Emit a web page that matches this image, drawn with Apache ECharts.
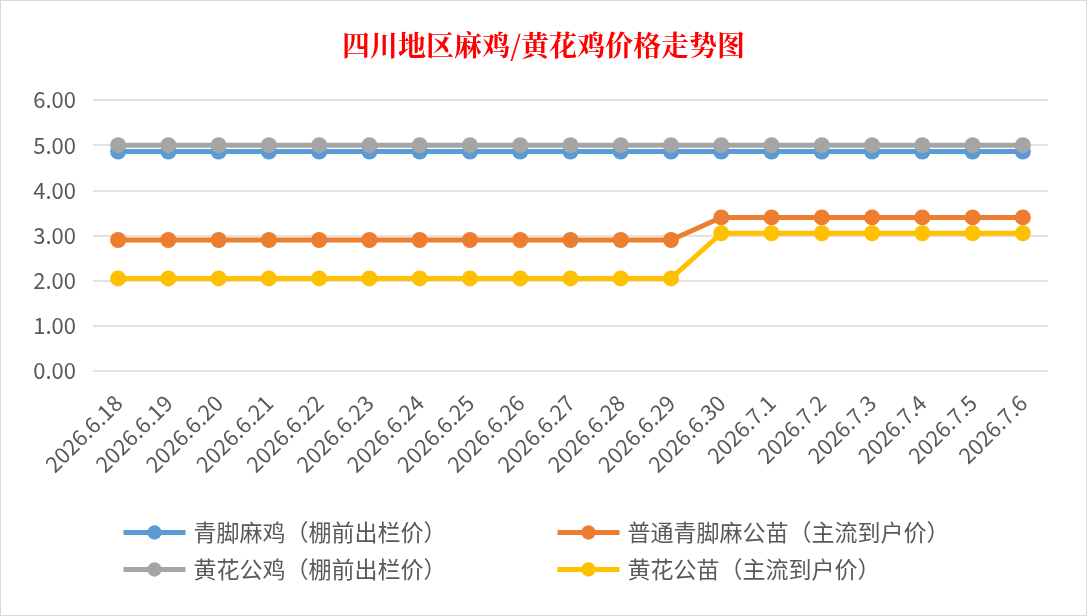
<!DOCTYPE html>
<html><head><meta charset="utf-8">
<script src="https://cdn.jsdelivr.net/npm/echarts@6/dist/echarts.min.js"></script>
<style>html,body{margin:0;padding:0;background:#fff}#c{width:1085px;height:614px;border:1px solid #d9d9d9}</style>
</head><body><div id="c"></div>
<script>
const categories = ['2026.6.18','2026.6.19','2026.6.20','2026.6.21','2026.6.22','2026.6.23','2026.6.24','2026.6.25','2026.6.26','2026.6.27','2026.6.28','2026.6.29','2026.6.30','2026.7.1','2026.7.2','2026.7.3','2026.7.4','2026.7.5','2026.7.6'];
const qingjiaoMaji = [4.86,4.86,4.86,4.86,4.86,4.86,4.86,4.86,4.86,4.86,4.86,4.86,4.86,4.86,4.86,4.86,4.86,4.86,4.86];
const putongMiao = [2.90,2.90,2.90,2.90,2.90,2.90,2.90,2.90,2.90,2.90,2.90,2.90,3.40,3.40,3.40,3.40,3.40,3.40,3.40];
const huanghuaGongji = [5.00,5.00,5.00,5.00,5.00,5.00,5.00,5.00,5.00,5.00,5.00,5.00,5.00,5.00,5.00,5.00,5.00,5.00,5.00];
const huanghuaMiao = [2.05,2.05,2.05,2.05,2.05,2.05,2.05,2.05,2.05,2.05,2.05,2.05,3.05,3.05,3.05,3.05,3.05,3.05,3.05];
const names = ['青脚麻鸡（棚前出栏价）','普通青脚麻公苗（主流到户价）','黄花公鸡（棚前出栏价）','黄花公苗（主流到户价）'];
const colors = ['#5b9bd5','#ed7d31','#a5a5a5','#ffc000'];
const dataSets = [qingjiaoMaji, putongMiao, huanghuaGongji, huanghuaMiao];

const chart = echarts.init(document.getElementById('c'));
const font = '"Noto Sans CJK SC","Noto Sans",sans-serif';
const legendText = {fontSize:23,color:'#595959',fontFamily:font,padding:[0,0,0,3]};
chart.setOption({
  animation:false,
  title:{text:'四川地区麻鸡/黄花鸡价格走势图',left:'center',top:25,
    textStyle:{color:'#ff0000',fontSize:28,fontWeight:'bold',fontFamily:'"Noto Serif CJK SC","Noto Sans CJK SC",serif'}},
  grid:{left:92,right:38,top:99,bottom:244,containLabel:false},
  legend:[
    {orient:'vertical',left:115,top:515,itemWidth:62,itemHeight:18,itemGap:14,textStyle:legendText,
     lineStyle:{width:5},data:[names[0],names[2]]},
    {orient:'vertical',left:549,top:515,itemWidth:62,itemHeight:18,itemGap:14,textStyle:legendText,
     lineStyle:{width:5},data:[names[1],names[3]]}
  ],
  xAxis:{type:'category',data:categories,boundaryGap:true,
    axisLine:{show:false},axisTick:{show:false},
    axisLabel:{rotate:45,fontSize:22,color:'#595959',fontFamily:font,margin:28,interval:0}},
  yAxis:{type:'value',min:0,max:6,interval:1,
    axisLine:{show:false},axisTick:{show:false},
    splitLine:{lineStyle:{color:'#d9d9d9',width:1.5}},
    axisLabel:{fontSize:22,color:'#595959',fontFamily:font,margin:17,formatter:v=>v.toFixed(2)}},
  series:dataSets.map((d,i)=>({
    name:names[i],type:'line',data:d,symbol:'circle',symbolSize:16,
    lineStyle:{width:5,color:colors[i]},itemStyle:{color:colors[i]}
  }))
});
</script></body></html>
